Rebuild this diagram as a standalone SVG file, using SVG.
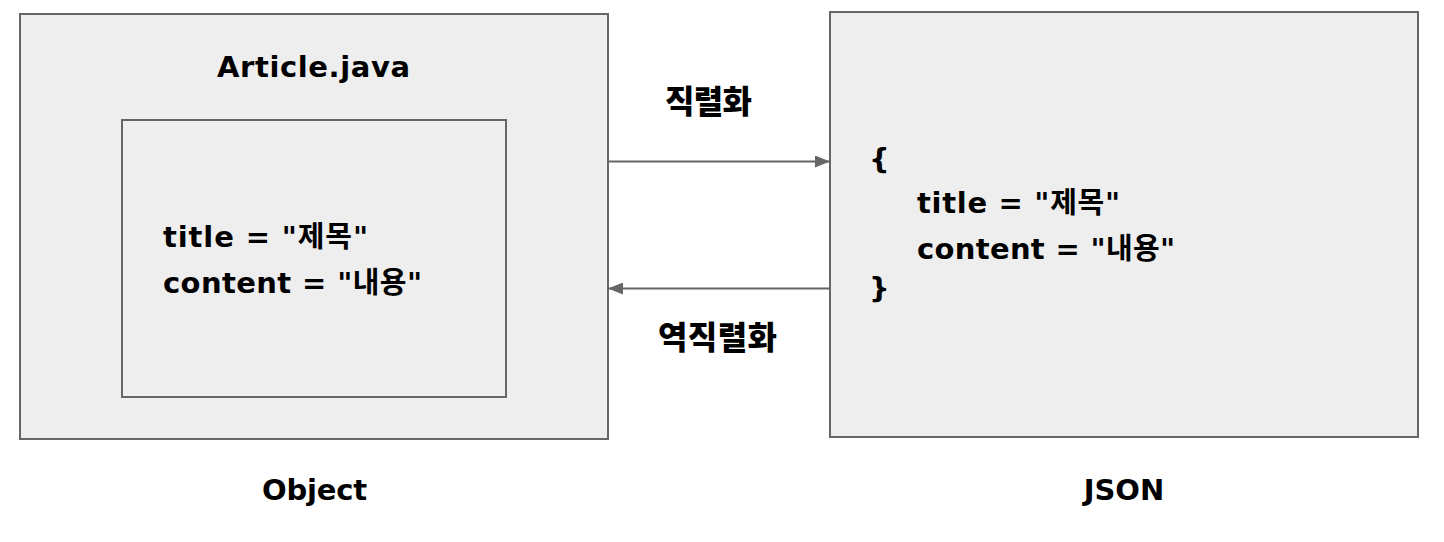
<svg xmlns="http://www.w3.org/2000/svg" width="1444" height="542" viewBox="0 0 1444 542">
  <style>
    .box { fill: #eeeeee; stroke: #666666; stroke-width: 2; }
    .conn { stroke: #666666; stroke-width: 2; fill: none; }
    .t { font-family: "DejaVu Sans", "Noto Sans CJK KR", sans-serif; font-weight: bold; fill: #000000; font-size: 29px; }
    .k { font-family: "Noto Sans CJK KR", sans-serif; font-weight: 900; fill: #000000; font-size: 32px; }
  </style>
  <defs>
    <marker id="arrow" viewBox="0 0 15 12" refX="15" refY="6" markerWidth="15" markerHeight="12" markerUnits="userSpaceOnUse" orient="auto">
      <path d="M0,0 L15,6 L0,12 Z" fill="#666666"/>
    </marker>
  </defs>
  <rect width="1444" height="542" fill="#ffffff"/>

  <g id="object-node">
    <rect class="box" x="20" y="14" width="588" height="425"/>
    <text class="t" x="313.5" y="77" text-anchor="middle" textLength="193">Article.java</text>
    <g id="object-fields">
      <rect class="box" x="122" y="120" width="384" height="277"/>
      <text class="t" x="163" y="247" textLength="205">title = "제목"</text>
      <text class="t" x="163" y="293" textLength="259">content = "내용"</text>
    </g>
  </g>

  <g id="json-node">
    <rect class="box" x="830" y="12" width="588" height="425"/>
    <text class="t" x="869" y="169">{</text>
    <text class="t" x="917" y="213" textLength="203">title = "제목"</text>
    <text class="t" x="917" y="259" textLength="258">content = "내용"</text>
    <text class="t" x="869" y="298">}</text>
  </g>

  <g id="label-object">
    <text class="t" x="314.5" y="500" text-anchor="middle" textLength="105">Object</text>
  </g>
  <g id="label-json">
    <text class="t" x="1124" y="500" text-anchor="middle">JSON</text>
  </g>

  <g id="connectors">
    <line class="conn" x1="608" y1="161.5" x2="830" y2="161.5" marker-end="url(#arrow)"/>
    <line class="conn" x1="830" y1="288.5" x2="608" y2="288.5" marker-end="url(#arrow)"/>
    <text class="k" x="708.5" y="113" text-anchor="middle" textLength="87">직렬화</text>
    <text class="k" x="717.5" y="349" text-anchor="middle" textLength="119">역직렬화</text>
  </g>
</svg>
